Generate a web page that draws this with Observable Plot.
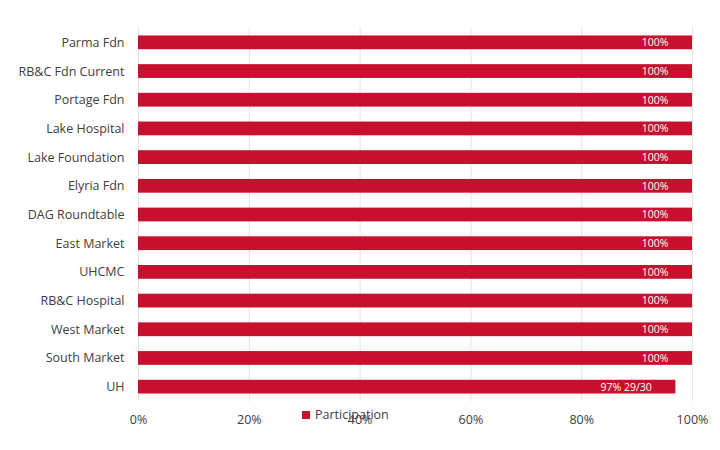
<!DOCTYPE html>
<html>
<head>
<meta charset="utf-8">
<script src="https://cdn.jsdelivr.net/npm/d3@7"></script>
<script src="https://cdn.jsdelivr.net/npm/@observablehq/plot@0.6"></script>
<style>
  body { margin: 0; background: #fff; font-family: "Open Sans", sans-serif; }
  #wrap { position: relative; width: 720px; height: 450px; }
  #legend { position: absolute; left: 302px; top: 406px; font-size: 12.5px; color: #404040; display: flex; align-items: center; gap: 5px; }
  #legend span.sw { width: 8px; height: 8px; background: #c8102e; display: inline-block; }
</style>
</head>
<body>
<div id="wrap"><div id="chart"></div><div id="legend"><span class="sw"></span><span>Participation</span></div></div>
<script>
const categories = ["Parma Fdn","RB&C Fdn Current","Portage Fdn","Lake Hospital","Lake Foundation","Elyria Fdn","DAG Roundtable","East Market","UHCMC","RB&C Hospital","West Market","South Market","UH"];
const values = [1,1,1,1,1,1,1,1,1,1,1,1,0.97];
const labels = ["100%","100%","100%","100%","100%","100%","100%","100%","100%","100%","100%","100%","97% 29/30"];
const xTicks = [0,0.2,0.4,0.6,0.8,1];

const data = categories.map((c,i)=>({cat:c, v:values[i], label:labels[i]}));

const chart = Plot.plot({
  width: 720,
  height: 450,
  marginLeft: 138,
  marginRight: 28,
  marginTop: 28,
  marginBottom: 49,
  style: { fontFamily: "Open Sans, sans-serif", color: "#404040", background: "#fff" },
  x: { domain: [0,1], ticks: xTicks, tickFormat: d3.format(".0%"), label: null },
  y: { domain: categories, paddingInner: 0.52, paddingOuter: 0.26, round: false, label: null },
  marks: [
    Plot.ruleX(xTicks, { stroke: "#e3e3e3", insetTop: -1 }),
    Plot.barX(data, { x: "v", y: "cat", fill: "#c8102e" }),
    Plot.text(data, { x: "v", y: "cat", text: "label", fill: "white", textAnchor: "end", dx: -24, fontSize: 10.5 }),
    Plot.axisX({ ticks: xTicks, tickFormat: d3.format(".0%"), tickSize: 0, tickPadding: 14, fontSize: 12.5, label: null }),
    Plot.axisY({ tickSize: 0, tickPadding: 14, fontSize: 12.5, label: null })
  ]
});
document.getElementById("chart").appendChild(chart);
</script>
</body>
</html>
